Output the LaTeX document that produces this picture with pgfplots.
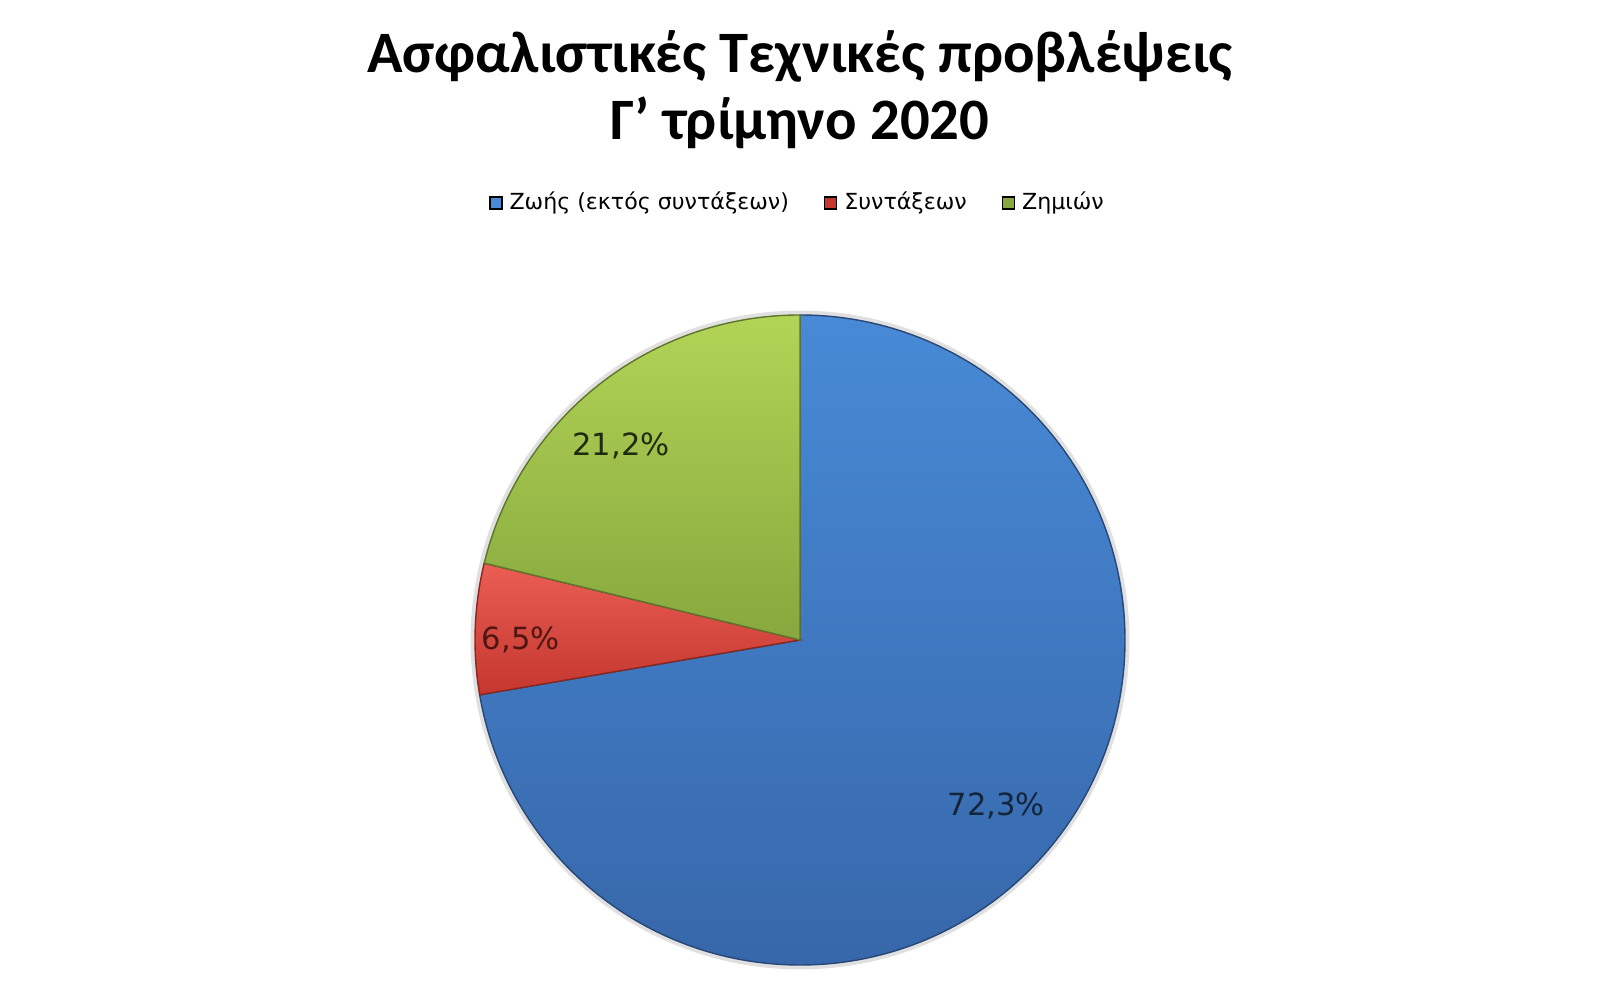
\documentclass[border=0pt]{standalone}
\usepackage{pgfplots}
\pgfplotsset{compat=1.18}
\usepackage{pgfplotstable}
\usepackage{fontspec}
\setmainfont{Carlito}
\newfontfamily\labelfont{DejaVu Sans}

\definecolor{blueT}{RGB}{72,138,214}
\definecolor{blueB}{RGB}{55,103,170}
\definecolor{redT}{RGB}{234,94,84}
\definecolor{redB}{RGB}{196,54,46}
\definecolor{greenT}{RGB}{178,212,86}
\definecolor{greenB}{RGB}{134,168,62}

% shares in percent, clockwise from 12 o'clock
\pgfplotstableread{
value
72.3
6.5
21.2
}\piedata

\pgfplotstablegetelem{0}{value}\of\piedata\let\vA\pgfplotsretval
\pgfplotstablegetelem{1}{value}\of\piedata\let\vB\pgfplotsretval
\pgfplotstablegetelem{2}{value}\of\piedata\let\vC\pgfplotsretval

\pgfmathsetmacro\aA{90}
\pgfmathsetmacro\aB{\aA-3.6*\vA}
\pgfmathsetmacro\aC{\aB-3.6*\vB}
\pgfmathsetmacro\aD{\aC-3.6*\vC}
\pgfmathsetmacro\mA{(\aA+\aB)/2}
\pgfmathsetmacro\mB{(\aB+\aC)/2}
\pgfmathsetmacro\mC{(\aC+\aD)/2}

\newcommand\pct[1]{\pgfmathprintnumber[fixed,precision=1,fixed zerofill,use comma,assume math mode=true]{#1}\%}

\pgfplotsset{
    legend image code/.code={\fill[#1] (0cm,-0.06cm) rectangle (0.12cm,0.06cm);},
}

\begin{document}
\begin{tikzpicture}
\useasboundingbox (0,0) rectangle (16,10);
\begin{axis}[
    at={(0,0)}, anchor=south west,
    disabledatascaling,
    x=3.25cm, y=3.25cm,
    xmin=-2.461538, xmax=2.461538,
    ymin=-1.107692, ymax=1.969231,
    hide axis, clip=false,
    legend columns=3,
    legend style={at={(0.5,0.797)}, anchor=center, draw=none, fill=none,
        font=\labelfont\fontsize{6.3}{7}\selectfont,
        /tikz/every even column/.append style={column sep=0.28cm}},
]
\addlegendimage{fill=blueT}
\addlegendentry{Ζωής (εκτός συντάξεων)}
\addlegendimage{fill=redB}
\addlegendentry{Συντάξεων}
\addlegendimage{fill=greenB}
\addlegendentry{Ζημιών}

% soft shadow round the pie
\draw[black, opacity=0.12, line width=2.5pt] (axis cs:0,0) circle[radius=3.25cm];

% slices
\shadedraw[top color=blueT, bottom color=blueB, draw=blueB!70!black, line width=0.4pt]
    (axis cs:0,0) -- (axis cs:{cos(\aA)},{sin(\aA)})
    arc[start angle=\aA, end angle=\aB, radius=3.25cm] -- cycle;
\shadedraw[top color=redT, bottom color=redB, draw=redB!70!black, line width=0.4pt]
    (axis cs:0,0) -- (axis cs:{cos(\aB)},{sin(\aB)})
    arc[start angle=\aB, end angle=\aC, radius=3.25cm] -- cycle;
\shadedraw[top color=greenT, bottom color=greenB, draw=greenB!70!black, line width=0.4pt]
    (axis cs:0,0) -- (axis cs:{cos(\aC)},{sin(\aC)})
    arc[start angle=\aC, end angle=\aD, radius=3.25cm] -- cycle;

% data labels
\node[font=\labelfont\fontsize{8.7}{10}\selectfont, text=blueB!35!black]
    at (axis cs:{0.79*cos(\mA)},{0.79*sin(\mA)}) {\pct{\vA}};
\node[font=\labelfont\fontsize{8.7}{10}\selectfont, text=redB!40!black]
    at (axis cs:{0.86*cos(\mB)},{0.86*sin(\mB)-0.03}) {\pct{\vB}};
\node[font=\labelfont\fontsize{8.7}{10}\selectfont, text=greenB!25!black]
    at (axis cs:{0.81*cos(\mC)-0.05},{0.81*sin(\mC)-0.04}) {\pct{\vC}};

% title
\node[font=\bfseries\fontsize{16.7}{19}\selectfont, anchor=base]
    at (rel axis cs:0.5,0.927) {Ασφαλιστικές Τεχνικές προβλέψεις};
\node[font=\bfseries\fontsize{16.7}{19}\selectfont, anchor=base]
    at (rel axis cs:0.5,0.860) {Γ' τρίμηνο 2020};
\end{axis}
\end{tikzpicture}
\end{document}
